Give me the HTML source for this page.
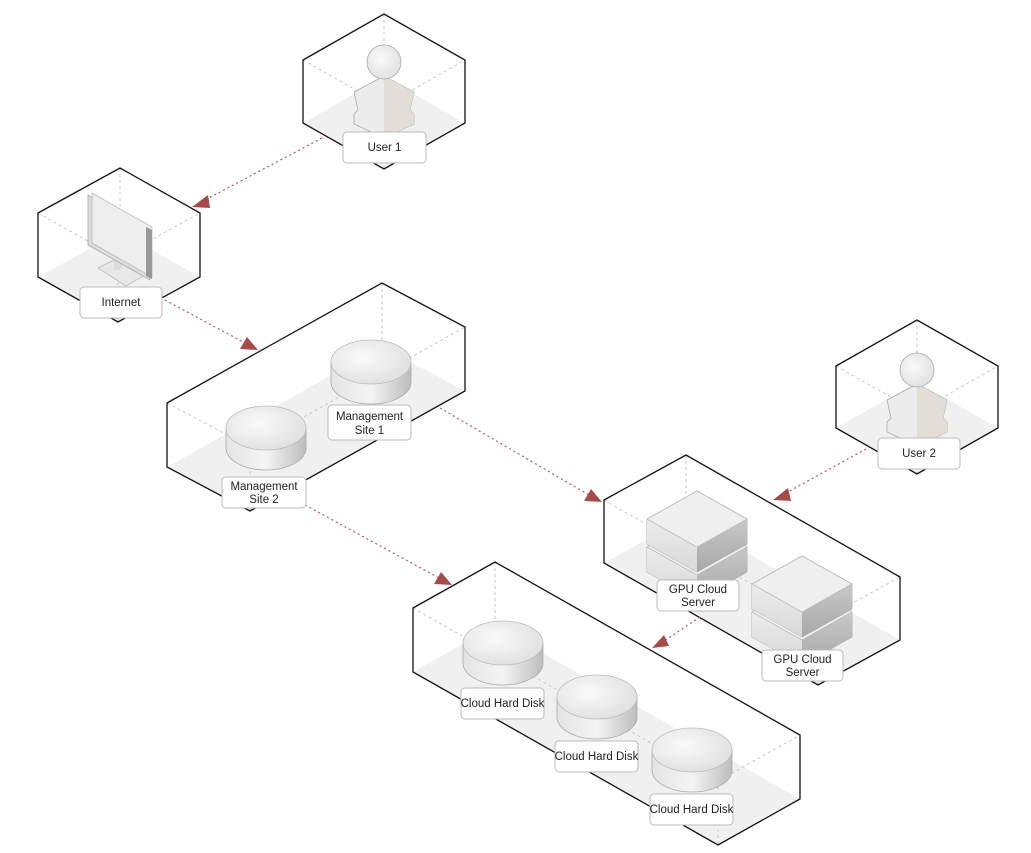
<!DOCTYPE html>
<html><head><meta charset="utf-8"><style>
html,body{margin:0;padding:0;background:#fff;}
svg{display:block;font-family:"Liberation Sans",sans-serif;}
.o{fill:none;stroke:#111;stroke-width:1.3;stroke-linejoin:miter}
.f{fill:#f0f0f0;stroke:none}
.d{stroke:#c8c8c8;stroke-width:1;stroke-dasharray:3,3;fill:none}
.a{stroke:#b55a5a;stroke-width:1.2;stroke-dasharray:2,3;fill:none}
.h{fill:#a84a4a}
.lb rect{fill:#fff;stroke:#bbb;stroke-width:1}
.lb text{font-size:11.5px;fill:#222;text-anchor:middle}
</style></head><body>
<svg width="1031" height="853" viewBox="0 0 1031 853" xmlns="http://www.w3.org/2000/svg">
<defs>
<linearGradient id="cs" x1="0" x2="1"><stop offset="0" stop-color="#e4e4e4"/><stop offset="0.5" stop-color="#f4f4f4"/><stop offset="1" stop-color="#bdbdbd"/></linearGradient>
<radialGradient id="ct" cx="0.4" cy="0.4" r="0.7"><stop offset="0" stop-color="#fafafa"/><stop offset="1" stop-color="#dedede"/></radialGradient>
<linearGradient id="sl" x1="0" x2="0" y1="0" y2="1"><stop offset="0" stop-color="#ececec"/><stop offset="1" stop-color="#d8d8d8"/></linearGradient>
<linearGradient id="sr" x1="0" x2="0" y1="0" y2="1"><stop offset="0" stop-color="#c8c8c8"/><stop offset="1" stop-color="#a8a8a8"/></linearGradient>
<g id="cyl">
<path d="M-40,0 L-40,20 A40,22 0 0 0 40,20 L40,0 Z" fill="url(#cs)" stroke="#aaa" stroke-width="0.8"/>
<ellipse cx="0" cy="0" rx="40" ry="22" fill="url(#ct)" stroke="#bbb" stroke-width="0.8"/>
</g>
<g id="blk">
<path d="M-50,0 L0,-28 L50,0 L50,25 L0,53 L-50,25 Z" fill="#e6e6e6" stroke="#aaa" stroke-width="0.8" stroke-linejoin="round"/>
<path d="M-50,0 L0,28 L0,53 L-50,25 Z" fill="url(#sl)"/>
<path d="M50,0 L0,28 L0,53 L50,25 Z" fill="url(#sr)"/>
<path d="M-50,0 L0,-28 L50,0 L0,28 Z" fill="#efefef" stroke="#bbb" stroke-width="0.8" stroke-linejoin="round"/>
</g>
<g id="srv"><use href="#blk" y="28"/><use href="#blk" y="0"/></g>
<g id="usr">
<path d="M-30,20 L0,4 L30,20 L26,38 L30,42 L30,52 L0,66 L-30,52 L-30,42 L-26,38 Z" fill="#ececec" stroke="#aaa" stroke-width="0.8"/>
<path d="M0,4 L0,66 L30,52 L30,42 L26,38 L30,20 Z" fill="#e2ded6"/>
<circle cx="0" cy="-10" r="17" fill="url(#ct)" stroke="#aaa" stroke-width="0.8"/>
</g>
</defs>

<polygon class="f" points="303,123 384,77 465,123 384,169"/>
<polygon class="f" points="38,277 120,232 200,277 118,322"/>
<polygon class="f" points="167,467 382,347 465,391 250,511"/>
<polygon class="f" points="604,563 686,518 900,640 818,685"/>
<polygon class="f" points="413,672 495,626 800,799 718,845"/>
<polygon class="f" points="836,428 917,382 998,428 917,474"/>

<path class="d" d="M384,14V77 M303,60L384,106L465,60 M384,106V169"/>
<path class="d" d="M120,168V232 M38,213L118,258L200,213 M118,258V322"/>
<path class="d" d="M382,283V347 M167,403L250,447L465,327 M250,447V511"/>
<path class="d" d="M686,455V518 M604,500L818,622L900,577 M818,622V685"/>
<path class="d" d="M495,562V626 M413,608L718,781L800,735 M718,781V845"/>
<path class="d" d="M917,320V382 M836,366L917,412L998,366 M917,412V474"/>

<polygon class="o" points="303,60 384,14 465,60 465,123 384,169 303,123"/>
<polygon class="o" points="38,213 120,168 200,213 200,277 118,322 38,277"/>
<polygon class="o" points="167,403 382,283 465,327 465,391 250,511 167,467"/>
<polygon class="o" points="604,500 686,455 900,577 900,640 818,685 604,563"/>
<polygon class="o" points="413,608 495,562 800,735 800,799 718,845 413,672"/>
<polygon class="o" points="836,366 917,320 998,366 998,428 917,474 836,428"/>

<use href="#usr" x="384" y="72"/>
<use href="#usr" x="917" y="380"/>
<g>
<path d="M98,268 L122,256 L150,272 L126,286 Z" fill="#e8e8e8" stroke="#bbb" stroke-width="0.8"/>
<rect x="114" y="250" width="8" height="20" fill="#ddd"/>
<path d="M88,195 L150,230 L150,280 L88,245 Z" fill="#dcdcdc" stroke="#aaa" stroke-width="0.8"/>
<path d="M92,193 L152,227 L152,277 L92,243 Z" fill="#eeeeee" stroke="#bbb" stroke-width="0.8"/>
<path d="M146,227 L152,230 L152,279 L146,276 Z" fill="#999"/>
</g>
<use href="#cyl" x="371" y="362"/>
<use href="#cyl" x="266" y="428"/>
<use href="#cyl" x="503" y="643"/>
<use href="#cyl" x="597" y="697"/>
<use href="#cyl" x="692" y="750"/>
<use href="#srv" x="697" y="519"/>
<use href="#srv" x="802" y="584"/>

<path class="a" d="M322,138L205,200"/><polygon class="h" points="192,207 208,195 210,208"/>
<path class="a" d="M165,300L245,343"/><polygon class="h" points="258,350 240,349 247,337"/>
<path class="a" d="M440,408L589,495"/><polygon class="h" points="602,502 584,501 591,489"/>
<path class="a" d="M305,505L439,578"/><polygon class="h" points="452,585 434,584 441,572"/>
<path class="a" d="M866,449L786,493"/><polygon class="h" points="773,500 788,488 791,501"/>
<path class="a" d="M700,617L664,641"/><polygon class="h" points="652,648 664,635 669,646"/>

<g class="lb">
<rect x="343" y="132" width="83" height="31" rx="4"/><text x="384.5" y="151">User 1</text>
<rect x="80" y="287" width="82" height="31" rx="4"/><text x="121" y="306">Internet</text>
<rect x="328" y="405" width="83" height="35" rx="4"/><text x="369.5" y="420">Management</text><text x="369.5" y="434">Site 1</text>
<rect x="222" y="477" width="84" height="31" rx="4"/><text x="264" y="490">Management</text><text x="264" y="503">Site 2</text>
<rect x="878" y="438" width="82" height="31" rx="4"/><text x="919" y="457">User 2</text>
<rect x="657" y="580" width="82" height="31" rx="4"/><text x="698" y="593">GPU Cloud</text><text x="698" y="606">Server</text>
<rect x="762" y="650" width="81" height="31" rx="4"/><text x="802.5" y="663">GPU Cloud</text><text x="802.5" y="676">Server</text>
<rect x="461" y="688" width="83" height="31" rx="4"/><text x="502.5" y="707">Cloud Hard Disk</text>
<rect x="555" y="741" width="83" height="31" rx="4"/><text x="596.5" y="760">Cloud Hard Disk</text>
<rect x="650" y="794" width="83" height="31" rx="4"/><text x="691.5" y="813">Cloud Hard Disk</text>
</g>
</svg>
</body></html>
